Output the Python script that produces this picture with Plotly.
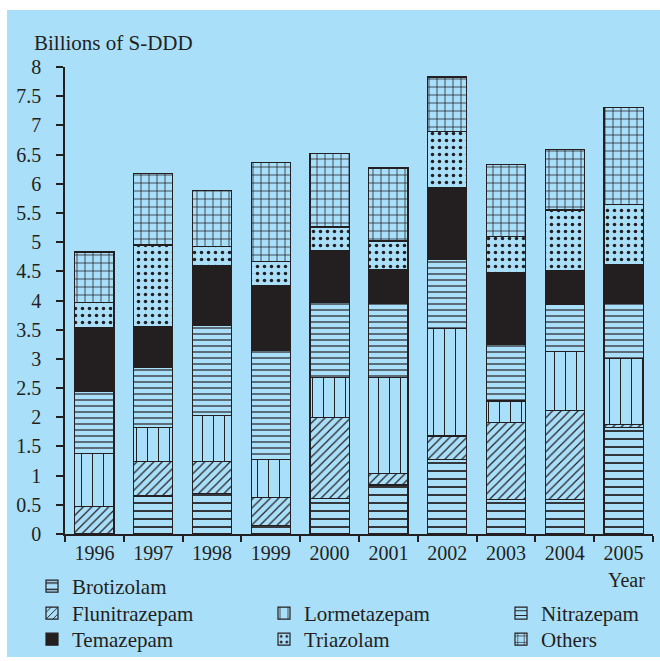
import plotly.graph_objects as go

years = ["1996", "1997", "1998", "1999", "2000", "2001", "2002", "2003", "2004", "2005"]
brotizolam    = [0.00, 0.65, 0.69, 0.15, 0.61, 0.84, 1.28, 0.59, 0.59, 1.82]
flunitrazepam = [0.47, 0.59, 0.55, 0.47, 1.39, 0.19, 0.40, 1.32, 1.53, 0.05]
lormetazepam  = [0.91, 0.58, 0.79, 0.66, 0.68, 1.65, 1.84, 0.37, 1.00, 1.13]
nitrazepam    = [1.07, 1.03, 1.55, 1.86, 1.28, 1.27, 1.18, 0.96, 0.81, 0.95]
temazepam     = [1.08, 0.71, 1.02, 1.11, 0.89, 0.58, 1.23, 1.23, 0.58, 0.67]
triazolam     = [0.43, 1.39, 0.32, 0.42, 0.41, 0.49, 0.96, 0.62, 1.04, 1.02]
others        = [0.87, 1.23, 0.97, 1.69, 1.26, 1.25, 0.94, 1.24, 1.03, 1.66]
y_ticks = [0, 0.5, 1, 1.5, 2, 2.5, 3, 3.5, 4, 4.5, 5, 5.5, 6, 6.5, 7, 7.5, 8]
y_labels = ["0", "0.5", "1", "1.5", "2", "2.5", "3", "3.5", "4", "4.5", "5", "5.5", "6", "6.5", "7", "7.5", "8"]

BG = "#aadffa"
INK = "#231f20"
FONT = "Liberation Serif"

# name, values, pattern shape, pattern size, solidity, legend column, legend row
series = [
    ("Brotizolam", brotizolam, "-", 8, 0.22, 0, 0),
    ("Flunitrazepam", flunitrazepam, "/", 6, 0.2, 0, 1),
    ("Lormetazepam", lormetazepam, "|", 11, 0.09, 1, 1),
    ("Nitrazepam", nitrazepam, "-", 6, 0.2, 2, 1),
    ("Temazepam", temazepam, None, 0, 0, 0, 2),
    ("Triazolam", triazolam, ".", 7, 0.2, 1, 2),
    ("Others", others, "+", 8, 0.18, 2, 2),
]

W, H = 660, 661
L, R, T, B = 65, 7, 67, 127
pw, ph = W - L - R, H - T - B

def px_x(x):
    return (x - L) / pw

def px_y(y):
    return (H - B - y) / ph

def cx(x):
    return x / W

def cy(y):
    return 1 - y / H

col_x = [32, 264, 501]
row_top = [566, 593, 619]
legfont = dict(family=FONT, size=21, color=INK)

fig = go.Figure()
legends = {}
for i, (name, vals, shape, size, sol, col, row) in enumerate(series):
    lg = "legend" if i == 0 else "legend%d" % (i + 1)
    if shape is None:
        marker = dict(color=INK, line=dict(color=INK, width=1.2))
    else:
        marker = dict(color=BG, line=dict(color=INK, width=1.2),
                      pattern=dict(shape=shape, size=size, solidity=sol,
                                   fgcolor=INK, bgcolor=BG, fillmode="replace"))
    fig.add_trace(go.Bar(x=years, y=vals, name=name, marker=marker, legend=lg, showlegend=True))
    legends[lg] = dict(xref="container", yref="container", x=cx(col_x[col]), y=cy(row_top[row]),
                       xanchor="left", yanchor="top", orientation="v", visible=True,
                       bgcolor="rgba(0,0,0,0)", font=legfont, borderwidth=0)

fig.update_layout(
    width=W, height=H,
    showlegend=True,
    margin=dict(l=L, r=R, t=T, b=B, autoexpand=False),
    paper_bgcolor="white",
    plot_bgcolor=BG,
    barmode="stack",
    bargap=0.335,
    font=dict(family=FONT, size=20, color=INK),
    xaxis=dict(type="category", tickson="boundaries", ticks="outside", ticklen=6,
               tickwidth=1.5, tickcolor=INK, showline=True, linecolor=INK, linewidth=1.5,
               showgrid=False, range=[-0.5, 9.5], tickfont=dict(family=FONT, size=20, color=INK)),
    yaxis=dict(range=[0, 8], tickmode="array", tickvals=y_ticks, ticktext=y_labels,
               ticks="outside", ticklen=7, tickwidth=1.5, tickcolor=INK, showline=True,
               linecolor=INK, linewidth=1.5, showgrid=False, zeroline=False,
               ticklabelstandoff=11, tickfont=dict(family=FONT, size=20, color=INK)),
    shapes=[dict(type="rect", xref="paper", yref="paper", x0=px_x(7), x1=px_x(662),
                 y0=px_y(657), y1=px_y(10), fillcolor=BG, line=dict(width=0), layer="below")],
    annotations=[
        dict(text="Billions of S-DDD", xref="paper", yref="paper", x=px_x(32), y=px_y(43),
             xanchor="left", yanchor="middle", showarrow=False, font=dict(family=FONT, size=21, color=INK)),
        dict(text="Year", xref="paper", yref="paper", x=px_x(647), y=px_y(580),
             xanchor="right", yanchor="middle", showarrow=False, font=dict(family=FONT, size=20, color=INK)),
    ],
    **legends,
)

fig.write_html("out.html", config={"displayModeBar": False},
               post_script="document.body.style.margin='0';document.body.style.overflow='hidden';document.documentElement.style.overflow='hidden';")
